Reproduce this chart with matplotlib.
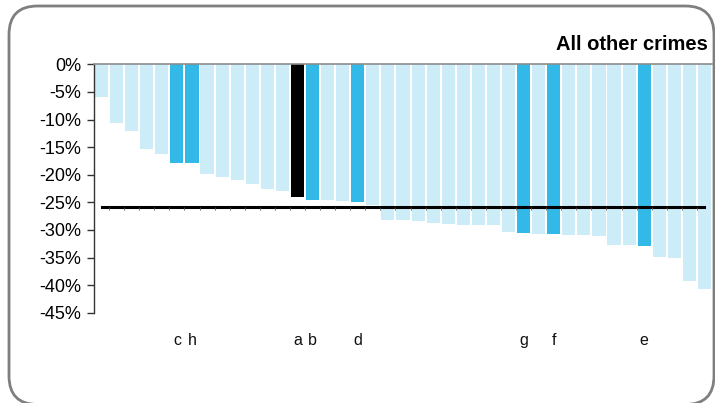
import matplotlib
matplotlib.use("Agg")
import matplotlib.pyplot as plt
from matplotlib.patches import FancyBboxPatch
from matplotlib.ticker import FuncFormatter

plt.rcParams['font.family'] = ['Liberation Sans', 'DejaVu Sans']

# ---- data ----
values = [-5.9, -10.6, -12.0, -15.3, -16.2, -17.8, -17.8, -19.8, -20.4, -20.9,
          -21.6, -22.5, -22.9, -24.0, -24.5, -24.5, -24.7, -24.9, -25.4, -28.2,
          -28.2, -28.3, -28.7, -28.9, -29.1, -29.2, -29.2, -30.3, -30.5, -30.7,
          -30.7, -30.9, -30.9, -31.1, -32.7, -32.7, -33.0, -34.9, -35.0, -39.2,
          -40.7]
labels = ["", "", "", "", "", "c", "h", "", "", "",
          "", "", "", "a", "b", "", "", "d", "", "",
          "", "", "", "", "", "", "", "", "g", "", "f",
          "", "", "", "", "", "e", "", "", "", ""]
# 0 = other, 1 = highlighted, 2 = national
kinds = [0, 0, 0, 0, 0, 1, 1, 0, 0, 0,
         0, 0, 0, 2, 1, 0, 0, 1, 0, 0,
         0, 0, 0, 0, 0, 0, 0, 0, 1, 0, 1,
         0, 0, 0, 0, 0, 1, 0, 0, 0, 0]
average = -25.9
title = "All other crimes"
yticks = [0, -5, -10, -15, -20, -25, -30, -35, -40, -45]

palette = {0: "#CCECF8", 1: "#33B9E8", 2: "#000000"}

W, H = 715, 403
fig = plt.figure(figsize=(W / 100, H / 100), dpi=100)

# rounded frame (pixel coords from top: left 9, top 6, right 714, bottom ~404)
frame = FancyBboxPatch((9 / W, -1.5 / H), (714 - 9) / W, (404.5 - 6) / H,
                       boxstyle="round,pad=0,rounding_size=0.04",
                       transform=fig.transFigure, facecolor="none",
                       edgecolor="#7F7F7F", linewidth=2, mutation_aspect=W / H,
                       clip_on=False, zorder=0)
fig.patches.append(frame)

ax = fig.add_axes([94 / W, 1 - 312.7 / H, (712 - 94) / W, (312.7 - 64.3) / H])
ax.patch.set_alpha(0)

x = list(range(len(values)))
ax.bar(x, values, width=0.87, color=[palette[k] for k in kinds], zorder=2)
ax.plot([x[0], x[-1]], [average, average], color="black", lw=2.2, zorder=3)
# faint category ticks along the average line
ax.vlines([i + 0.5 for i in x[:-1]], average - 0.45, average, color="#555555",
          lw=0.6, zorder=3)

ax.set_xlim(-0.5, len(values) - 0.5)
ax.set_ylim(-45, 0)
ax.set_yticks(yticks)
ax.yaxis.set_major_formatter(FuncFormatter(lambda v, p: f"{int(round(v))}%"))
ax.tick_params(axis='y', direction='out', length=5, width=1, color="#333333",
               labelsize=13, pad=4)
ax.set_xticks([])

for s in ["right", "bottom"]:
    ax.spines[s].set_visible(False)
ax.spines["top"].set_color("#8C8C8C")
ax.spines["top"].set_linewidth(1.2)
ax.spines["left"].set_color("#333333")
ax.spines["left"].set_linewidth(1)

for xi, lab in zip(x, labels):
    if lab:
        ax.text(xi, -50.1, lab, ha="center", va="center", fontsize=11.5,
                color="#111111", clip_on=False)

fig.text(708 / W, 1 - 45 / H, title, ha="right", va="center",
         fontsize=14.5, fontweight="bold")

fig.savefig("out.png", dpi=100)
